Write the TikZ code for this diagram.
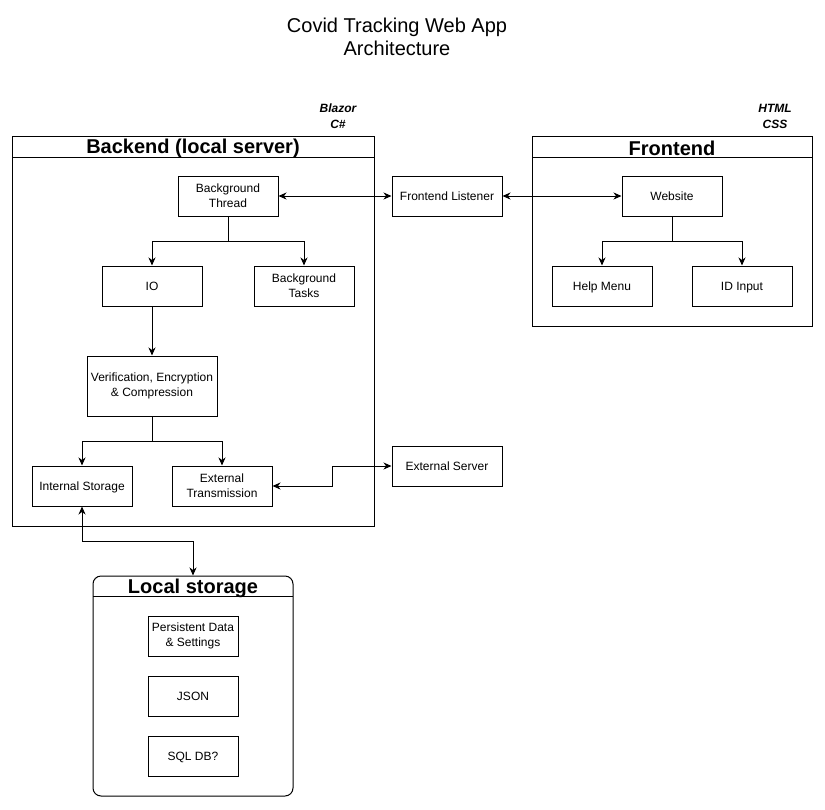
\documentclass[tikz,border=0pt]{standalone}
\usepackage{fontspec}
\setmainfont{Liberation Sans}
\usetikzlibrary{arrows.meta}
\begin{document}
\begin{tikzpicture}[x=1pt,y=-1pt,
  box/.style={draw,line width=1pt,fill=white,inner sep=0pt,align=center,font=\fontsize{12}{15}\selectfont},
  one/.style={text height=9.6pt,text depth=1pt},
  cont/.style={draw,line width=1pt,inner sep=0pt},
  hdr/.style={font=\fontsize{20}{24}\selectfont\bfseries,inner sep=0pt},
  tag/.style={font=\fontsize{12}{16}\selectfont\bfseries\itshape,align=center,inner sep=0pt},
  conn/.style={line width=1pt,-{Stealth[length=8pt,width=7pt,inset=2.5pt]}},
  bconn/.style={line width=1pt,{Stealth[length=8pt,width=7pt,inset=2.5pt]}-{Stealth[length=8pt,width=7pt,inset=2.5pt]}}
]
\useasboundingbox (0,0) rectangle (825,809);
% title
\node[font=\fontsize{20}{23}\selectfont,align=center,inner sep=0pt] (title) at (397,37) {Covid Tracking Web App\\Architecture};
% containers
\node[cont,minimum width=362pt,minimum height=390pt] (backend) at (193,331) {};
\draw[line width=1pt] (12,157) -- (374,157);
\node[hdr] (backendT) at (193,148) {Backend (local server)};
\node[tag] (blazor) at (338,116) {Blazor\\C\#};
\node[cont,minimum width=280pt,minimum height=190pt] (frontend) at (672,231) {};
\draw[line width=1pt] (532,157) -- (812,157);
\node[hdr] (frontendT) at (672,148) {Frontend};
\node[tag] (html) at (775,116) {HTML\\CSS};
\node[cont,rounded corners=8pt,minimum width=200pt,minimum height=220pt] (local) at (193,686) {};
\draw[line width=1pt] (93,596) -- (293,596);
\node[hdr] (localT) at (193,588) {Local storage};
% boxes
\node[box,minimum width=100pt,minimum height=40pt] (bt) at (228,196) {Background\\Thread};
\node[box,one,minimum width=100pt,minimum height=40pt] (io) at (152,286) {IO};
\node[box,minimum width=100pt,minimum height=40pt] (btasks) at (304,286) {Background\\Tasks};
\node[box,minimum width=130pt,minimum height=60pt] (ver) at (152,386) {Verification, Encryption\\\& Compression};
\node[box,one,minimum width=100pt,minimum height=40pt] (is) at (82,486) {Internal Storage};
\node[box,minimum width=100pt,minimum height=40pt] (et) at (222,486) {External\\Transmission};
\node[box,one,minimum width=110pt,minimum height=40pt] (es) at (447,466) {External Server};
\node[box,one,minimum width=110pt,minimum height=40pt] (fl) at (447,196) {Frontend Listener};
\node[box,one,minimum width=100pt,minimum height=40pt] (web) at (672,196) {Website};
\node[box,one,minimum width=100pt,minimum height=40pt] (help) at (602,286) {Help Menu};
\node[box,one,minimum width=100pt,minimum height=40pt] (id) at (742,286) {ID Input};
\node[box,minimum width=90pt,minimum height=40pt] (pd) at (193,636) {Persistent Data\\\& Settings};
\node[box,one,minimum width=90pt,minimum height=40pt] (json) at (193,696) {JSON};
\node[box,one,minimum width=90pt,minimum height=40pt] (sql) at (193,756) {SQL DB?};
% connectors
\draw[bconn] (bt.east) -- (fl.west);
\draw[bconn] (fl.east) -- (web.west);
\draw[conn] (bt.south) -- (228,241) -| (io.north);
\draw[conn] (bt.south) -- (228,241) -| (btasks.north);
\draw[conn] (io.south) -- (ver.north);
\draw[conn] (ver.south) -- (152,441) -| (is.north);
\draw[conn] (ver.south) -- (152,441) -| (et.north);
\draw[conn] (web.south) -- (672,241) -| (help.north);
\draw[conn] (web.south) -- (672,241) -| (id.north);
\draw[bconn] (et.east) -- (332,486) |- (es.west);
\draw[bconn] (is.south) -- (82,541) -| (local.north);
\end{tikzpicture}
\end{document}
